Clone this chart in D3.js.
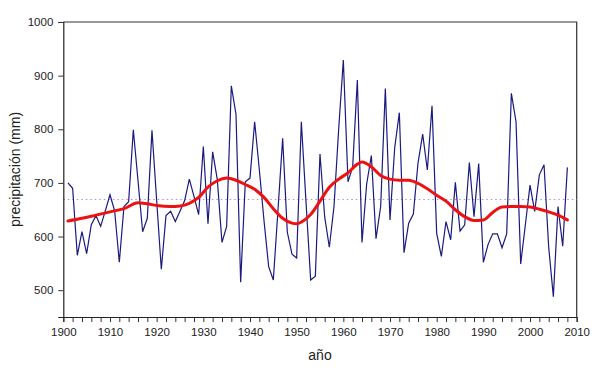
<!DOCTYPE html>
<html>
<head>
<meta charset="utf-8">
<script src="https://cdn.jsdelivr.net/npm/d3@7/dist/d3.min.js"></script>
<style>
  html, body { margin: 0; padding: 0; background: #ffffff; }
  svg { display: block; font-family: Arial, "Liberation Sans", sans-serif; }
</style>
</head>
<body>
<svg id="chart" width="600" height="368"></svg>
<script>
// Annual precipitation (mm), 1901–2008
const years = d3.range(1901, 2009);
const precip = [
  700, 690, 565, 609, 568, 622, 639, 619, 648, 678,
  648, 552, 656, 665, 799, 705, 609, 634, 798, 668,
  539, 639, 647, 628, 647, 667, 707, 675, 641, 768,
  624, 758, 706, 589, 619, 881, 828, 515, 702, 709,
  814, 725, 630, 544, 519, 650, 783, 608, 567, 560,
  814, 665, 519, 526, 754, 637, 580, 656, 800, 929,
  702, 730, 892, 589, 698, 751, 596, 656, 876, 631,
  765, 831, 570, 625, 642, 737, 791, 724, 844, 606,
  563, 628, 594, 701, 610, 622, 738, 637, 736, 552,
  585, 605, 605, 579, 605, 867, 814, 549, 622, 696,
  647, 715, 734, 580, 488, 656, 582, 729
];
// Smoothed trend
const smoothYears = [1901, 1904, 1907, 1910, 1913, 1916, 1918, 1920, 1923, 1925,
  1927, 1929, 1931, 1933, 1935, 1937, 1939, 1941, 1943, 1945,
  1947, 1949, 1950, 1951, 1953, 1955, 1957, 1959, 1961, 1963,
  1964, 1966, 1968, 1970, 1972, 1974, 1976, 1978, 1980, 1982,
  1984, 1986, 1988, 1990, 1992, 1994, 1996, 1998, 2000, 2002,
  2004, 2006, 2008];
const smoothVals = [629, 634, 640, 646, 652, 663, 661, 658, 656, 657,
  662, 673, 692, 704, 709, 705, 697, 688, 673, 652,
  634, 625, 624, 627, 641, 666, 692, 707, 719, 735,
  739, 730, 714, 707, 705, 705, 699, 689, 677, 666,
  650, 637, 630, 631, 645, 655, 656, 656, 655, 651,
  646, 640, 631];
const meanValue = 669;
const xTickValues = d3.range(1900, 2011, 10);
const xMinorTicks = d3.range(1900, 2011, 2);
const yTickValues = [500, 600, 700, 800, 900, 1000];
const xTitle = "año";
const yTitle = "precipitación (mm)";

const svg = d3.select("#chart");
const pLeft = 63.3, pRight = 576.7, pTop = 22, pBottom = 317;
const x = d3.scaleLinear().domain([1900, 2010]).range([pLeft, pRight]);
const y = d3.scaleLinear().domain([450, 1000]).range([pBottom, pTop]);

// frame (top and right)
svg.append("path")
  .attr("d", `M${pLeft},${pTop}H${pRight}V${pBottom}`)
  .attr("fill", "none").attr("stroke", "#333").attr("stroke-width", 1.2);

// mean dotted line
svg.append("line")
  .attr("x1", pLeft).attr("x2", pRight)
  .attr("y1", y(meanValue)).attr("y2", y(meanValue))
  .attr("stroke", "#b58ad8").attr("stroke-width", 1)
  .attr("stroke-dasharray", "1.5,3");

// x axis
const xAxis = svg.append("g").attr("transform", `translate(0,${pBottom})`)
  .call(d3.axisBottom(x).tickValues(xMinorTicks).tickSize(5).tickFormat(""));
xAxis.select(".domain").attr("stroke", "#222").attr("stroke-width", 1.2);
xAxis.selectAll(".tick line").attr("stroke", "#333");
const xLabels = svg.append("g").attr("transform", `translate(0,${pBottom})`)
  .call(d3.axisBottom(x).tickValues(xTickValues).tickSize(0).tickPadding(11).tickFormat(d3.format("d")));
xLabels.select(".domain").remove();
xLabels.selectAll("text").attr("font-size", 11.5).attr("fill", "#222")
  .attr("font-family", "Arial, 'Liberation Sans', sans-serif");

// y axis
const yAxis = svg.append("g").attr("transform", `translate(${pLeft},0)`)
  .call(d3.axisLeft(y).tickValues(yTickValues).tickSize(5).tickPadding(5).tickFormat(d3.format("d")));
yAxis.select(".domain").attr("stroke", "#222").attr("stroke-width", 1.2);
yAxis.selectAll(".tick line").attr("stroke", "#333");
yAxis.selectAll("text").attr("font-size", 11.5).attr("fill", "#222")
  .attr("font-family", "Arial, 'Liberation Sans', sans-serif");

// precipitation line
svg.append("path")
  .datum(years.map((yr, i) => [yr, precip[i]]))
  .attr("fill", "none").attr("stroke", "#1a1a80").attr("stroke-width", 1.2)
  .attr("stroke-linejoin", "miter")
  .attr("d", d3.line().x(d => x(d[0])).y(d => y(d[1])));

// smoothed line
svg.append("path")
  .datum(smoothYears.map((yr, i) => [yr, smoothVals[i]]))
  .attr("fill", "none").attr("stroke", "#ee1111").attr("stroke-width", 3)
  .attr("stroke-linecap", "round")
  .attr("d", d3.line().curve(d3.curveMonotoneX).x(d => x(d[0])).y(d => y(d[1])));

// titles
svg.append("text").attr("x", (pLeft + pRight) / 2).attr("y", 360)
  .attr("text-anchor", "middle").attr("font-size", 14).attr("fill", "#222").text(xTitle);
svg.append("text")
  .attr("transform", `translate(20,${(pTop + pBottom) / 2}) rotate(-90)`)
  .attr("text-anchor", "middle").attr("font-size", 14).attr("fill", "#222").text(yTitle);
</script>
</body>
</html>
